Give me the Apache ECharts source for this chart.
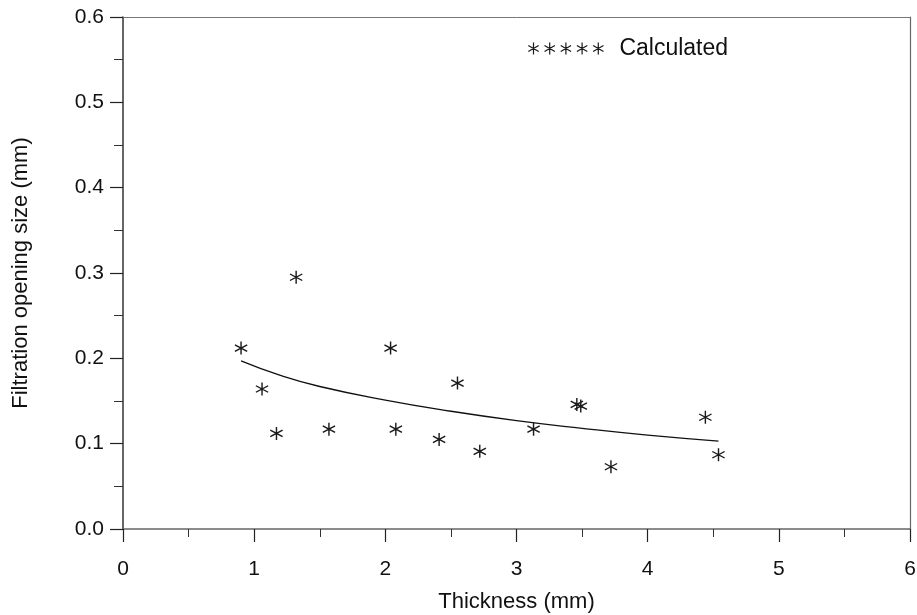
<!DOCTYPE html>
<html>
<head>
<meta charset="utf-8">
<script src="https://cdn.jsdelivr.net/npm/echarts@6/dist/echarts.min.js"></script>
<style>html,body{margin:0;padding:0;background:#fff;}#c{width:917px;height:615px;}</style>
</head>
<body>
<div id="c"></div>
<script>
// Measured points
var thickness = [0.90, 1.06, 1.17, 1.32, 1.57, 2.04, 2.08, 2.41, 2.55, 2.72, 3.13, 3.46, 3.49, 3.72, 4.44, 4.54];
var opening   = [0.212, 0.164, 0.112, 0.295, 0.117, 0.212, 0.117, 0.105, 0.171, 0.091, 0.117, 0.146, 0.144, 0.073, 0.131, 0.087];
// Fitted curve
var fitX = [0.90, 1.2, 1.5, 2.0, 2.5, 3.0, 3.5, 4.0, 4.54];
var fitY = [0.197, 0.180, 0.167, 0.151, 0.138, 0.127, 0.118, 0.110, 0.103];
var xTicks = [0, 1, 2, 3, 4, 5, 6];
var yTicks = [0.0, 0.1, 0.2, 0.3, 0.4, 0.5, 0.6];

function starPath(ox) {
  function p(pts) {
    return 'M' + pts.map(function (q) { return (q[0] + ox).toFixed(1) + ',' + q[1].toFixed(1); }).join('L') + 'Z';
  }
  return p([[45, 0], [55, 0], [55, 100], [45, 100]]) +
         p([[9.2, 79.33], [4.2, 70.67], [90.8, 20.67], [95.8, 29.33]]) +
         p([[4.2, 29.33], [9.2, 20.67], [95.8, 70.67], [90.8, 79.33]]);
}
var oneStar = 'path://' + starPath(0);
var fiveStars = 'path://' + [0, 1, 2, 3, 4].map(function (i) { return starPath(i * 135); }).join('');

var pts = thickness.map(function (x, i) { return [x, opening[i]]; });
var fit = fitX.map(function (x, i) { return [x, fitY[i]]; });

var font = 'Liberation Sans, Arial, Helvetica, sans-serif';
var chart = echarts.init(document.getElementById('c'), null, { renderer: 'canvas' });
chart.setOption({
  backgroundColor: '#fff',
  animation: false,
  grid: { left: 123, right: 7, top: 17, bottom: 86, containLabel: false, outerBoundsMode: 'none' },
  legend: {
    left: 528, top: 37, padding: 0,
    itemWidth: 81, itemHeight: 12, itemGap: 10,
    textStyle: { fontFamily: font, fontSize: 23, color: '#111', padding: [0, 0, 0, 8] },
    data: [{ name: 'Calculated', icon: fiveStars }]
  },
  xAxis: [{
    type: 'value', min: 0, max: 6, interval: 1,
    name: 'Thickness (mm)', nameLocation: 'middle', nameGap: 62,
    nameTextStyle: { fontFamily: font, fontSize: 22, color: '#111' },
    axisLine: { show: true, onZero: false, lineStyle: { color: '#666', width: 1.5 } },
    axisTick: { show: true, inside: false, length: 13, lineStyle: { color: '#222', width: 1.2 } },
    minorTick: { show: true, splitNumber: 2, length: 8, lineStyle: { color: '#333', width: 1 } },
    axisLabel: { margin: 30, fontFamily: font, fontSize: 21, color: '#111',
      customValues: xTicks, formatter: function (v) { return String(v); } },
    splitLine: { show: false }, minorSplitLine: { show: false }
  }, {
    type: 'value', position: 'top', min: 0, max: 6, interval: 1,
    axisLine: { show: true, onZero: false, lineStyle: { color: '#777', width: 1 } },
    axisTick: { show: false }, axisLabel: { show: false }, splitLine: { show: false }
  }],
  yAxis: [{
    type: 'value', min: 0, max: 0.6, interval: 0.1,
    name: 'Filtration opening size (mm)', nameLocation: 'middle', nameGap: 91,
    nameTextStyle: { fontFamily: font, fontSize: 22, color: '#111' },
    axisLine: { show: true, onZero: false, lineStyle: { color: '#333', width: 1.5 } },
    axisTick: { show: true, inside: false, length: 13, lineStyle: { color: '#222', width: 1.2 } },
    minorTick: { show: true, splitNumber: 2, length: 9, lineStyle: { color: '#333', width: 1 } },
    axisLabel: { margin: 19, fontFamily: font, fontSize: 21, color: '#111',
      formatter: function (v) { return v.toFixed(1); } },
    splitLine: { show: false }, minorSplitLine: { show: false }
  }, {
    type: 'value', position: 'right', min: 0, max: 0.6, interval: 0.1,
    axisLine: { show: true, onZero: false, lineStyle: { color: '#666', width: 1.2 } },
    axisTick: { show: false }, axisLabel: { show: false }, splitLine: { show: false }
  }],
  series: [{
    name: 'Calculated', type: 'scatter', xAxisIndex: 0, yAxisIndex: 0,
    data: pts, symbol: oneStar, symbolSize: [13, 13],
    itemStyle: { color: '#1a1a1a', opacity: 1 }
  }, {
    name: 'Fit', type: 'line', xAxisIndex: 0, yAxisIndex: 0,
    data: fit, smooth: true, showSymbol: false, symbol: 'none',
    lineStyle: { color: '#111', width: 1.3 }
  }]
});
</script>
</body>
</html>
